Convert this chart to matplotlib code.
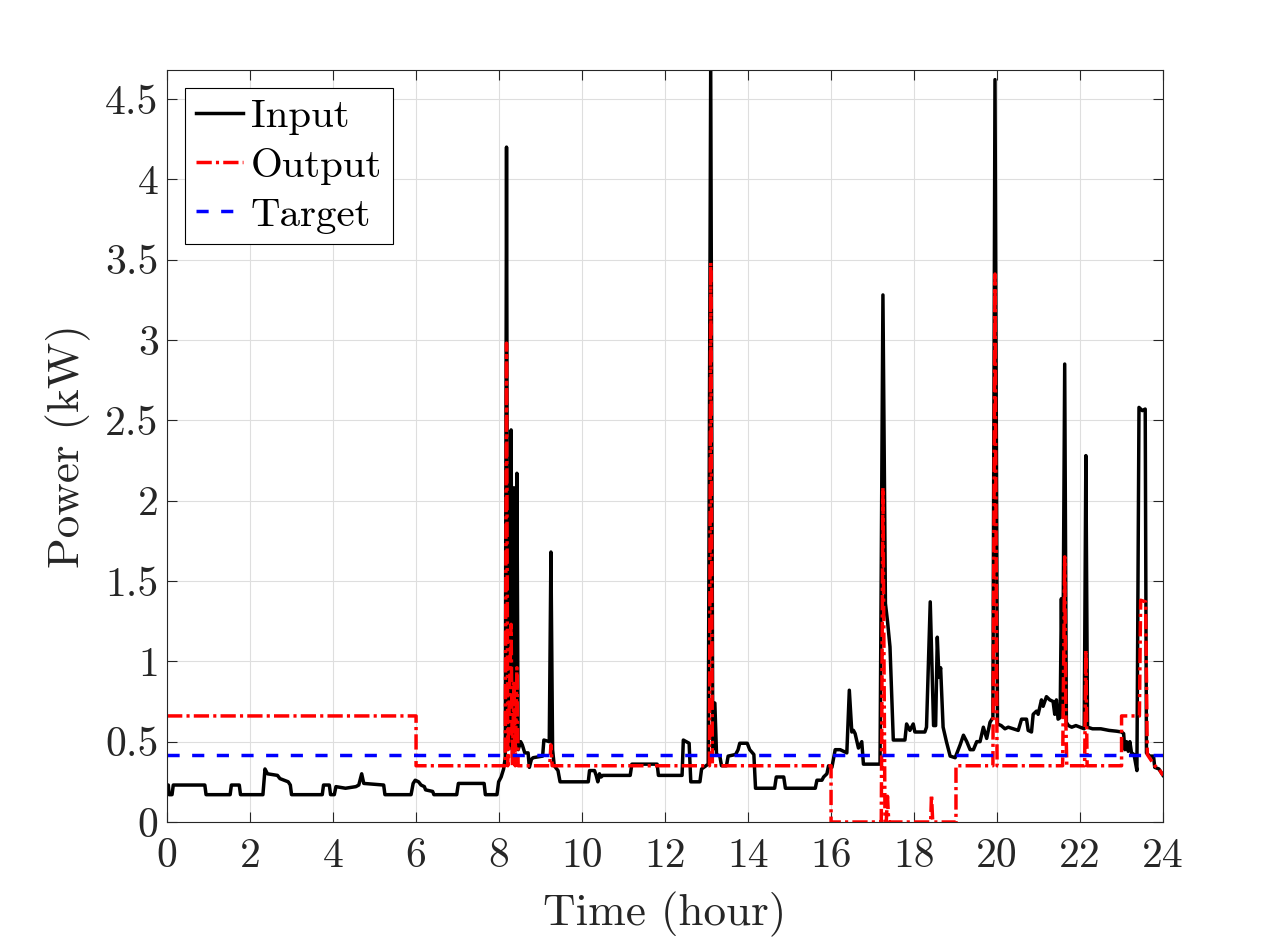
import numpy as np
import matplotlib
matplotlib.use("Agg")
import matplotlib.pyplot as plt

plt.rcParams['font.family'] = 'cmr10'
plt.rcParams['axes.unicode_minus'] = False
plt.rcParams['axes.formatter.use_mathtext'] = True

# Input power (kW) vs time (hour)
input_t = [0.00, 0.03, 0.05, 0.12, 0.15, 0.91, 0.94, 1.52, 1.55, 1.74, 1.77, 2.31, 2.36, 2.42,
           2.66, 2.72, 2.92, 2.97, 3.00, 3.74, 3.77, 3.91, 3.94, 4.03, 4.07, 4.30, 4.55, 4.62,
           4.69, 4.74, 5.22, 5.25, 5.88, 5.93, 5.98, 6.06, 6.12, 6.20, 6.23, 6.40, 6.43, 6.98,
           7.02, 7.64, 7.67, 7.95, 7.99, 8.05, 8.11, 8.15, 8.18, 8.21, 8.26, 8.29, 8.32, 8.36,
           8.39, 8.43, 8.46, 8.52, 8.56, 8.62, 8.70, 8.73, 8.78, 8.82, 9.05, 9.08, 9.21, 9.25,
           9.29, 9.33, 9.42, 9.47, 10.15, 10.18, 10.30, 10.34, 10.38, 10.42, 10.46, 10.50, 11.16,
           11.20, 11.81, 11.84, 12.41, 12.44, 12.58, 12.62, 12.84, 12.88, 13.04, 13.10, 13.15,
           13.20, 13.24, 13.32, 13.36, 13.48, 13.52, 13.70, 13.76, 13.80, 13.98, 14.04, 14.14,
           14.18, 14.64, 14.68, 14.86, 14.90, 15.62, 15.66, 15.78, 15.82, 15.90, 15.94, 16.02,
           16.10, 16.22, 16.30, 16.38, 16.44, 16.50, 16.54, 16.58, 16.66, 16.74, 16.78, 17.18,
           17.25, 17.31, 17.36, 17.42, 17.50, 17.78, 17.82, 17.90, 17.98, 18.02, 18.26, 18.30,
           18.39, 18.47, 18.52, 18.56, 18.60, 18.64, 18.70, 18.78, 18.87, 18.99, 19.11, 19.19,
           19.27, 19.35, 19.43, 19.51, 19.59, 19.67, 19.75, 19.83, 19.90, 19.95, 20.01, 20.10,
           20.19, 20.27, 20.39, 20.51, 20.59, 20.71, 20.75, 20.83, 20.87, 20.95, 20.99, 21.07,
           21.11, 21.19, 21.27, 21.35, 21.39, 21.43, 21.47, 21.52, 21.55, 21.58, 21.63, 21.67,
           21.72, 21.80, 21.90, 22.00, 22.10, 22.14, 22.18, 22.30, 22.50, 22.70, 22.88, 23.00,
           23.05, 23.08, 23.12, 23.16, 23.20, 23.24, 23.30, 23.37, 23.42, 23.50, 23.57, 23.60,
           23.68, 23.77, 23.80, 23.90, 24.00]
input_p = [0.23, 0.23, 0.17, 0.17, 0.23, 0.23, 0.17, 0.17, 0.23, 0.23, 0.17, 0.17, 0.33, 0.30,
           0.29, 0.27, 0.25, 0.23, 0.17, 0.17, 0.23, 0.23, 0.17, 0.17, 0.22, 0.21, 0.22, 0.23,
           0.30, 0.24, 0.23, 0.17, 0.17, 0.24, 0.26, 0.25, 0.23, 0.22, 0.20, 0.19, 0.17, 0.17,
           0.24, 0.24, 0.17, 0.17, 0.25, 0.28, 0.33, 0.40, 4.20, 0.45, 0.50, 2.44, 0.45, 2.08,
           0.50, 2.17, 0.45, 0.50, 0.48, 0.43, 0.43, 0.34, 0.39, 0.40, 0.41, 0.51, 0.50, 1.68,
           0.45, 0.35, 0.32, 0.25, 0.25, 0.32, 0.32, 0.29, 0.25, 0.30, 0.28, 0.29, 0.29,
           0.36, 0.36, 0.29, 0.29, 0.51, 0.49, 0.25, 0.25, 0.33, 0.36, 4.70, 0.45,
           0.74, 0.42, 0.41, 0.35, 0.35, 0.41, 0.42, 0.45, 0.49, 0.49, 0.45, 0.42,
           0.21, 0.21, 0.28, 0.28, 0.21, 0.21, 0.26, 0.26, 0.28, 0.30, 0.35, 0.34,
           0.45, 0.45, 0.44, 0.43, 0.82, 0.56, 0.57, 0.55, 0.46, 0.50, 0.36, 0.36,
           3.28, 1.36, 1.25, 1.09, 0.51, 0.51, 0.61, 0.57, 0.61, 0.56, 0.56, 0.59,
           1.37, 0.60, 0.60, 1.15, 0.90, 0.96, 0.59, 0.50, 0.41, 0.40, 0.48, 0.54,
           0.50, 0.45, 0.45, 0.50, 0.50, 0.59, 0.52, 0.62, 0.65, 4.62, 0.61, 0.60,
           0.58, 0.59, 0.58, 0.57, 0.64, 0.64, 0.57, 0.56, 0.67, 0.69, 0.67, 0.76,
           0.72, 0.78, 0.76, 0.75, 0.67, 0.76, 0.64, 0.65, 1.39, 0.70, 2.85, 0.62,
           0.60, 0.59, 0.60, 0.59, 0.58, 2.28, 0.59, 0.58, 0.58, 0.57, 0.565, 0.56,
           0.55, 0.45, 0.50, 0.44, 0.50, 0.43, 0.42, 0.32, 2.58, 2.56, 2.57, 0.43,
           0.41, 0.41, 0.34, 0.33, 0.29]

# Output power (kW)
output_t = [0.0, 6.0, 6.0, 8.15, 8.18, 8.21, 8.29, 8.32, 8.36, 8.39, 8.43, 8.46, 9.22, 9.25, 9.28,
            13.07, 13.10, 13.14, 16.0, 16.0, 17.21, 17.25, 17.30, 17.33, 17.36, 17.39, 18.40,
            18.42, 18.45, 19.01, 19.01, 19.90, 19.95, 20.0, 21.58, 21.63, 21.66, 21.68, 22.11,
            22.14, 22.17, 23.0, 23.0, 23.43, 23.46, 23.58, 23.62, 23.80, 23.90, 24.0]
output_p = [0.66, 0.66, 0.35, 0.35, 2.98, 0.35, 1.23, 0.35, 0.88, 0.35, 0.96, 0.35, 0.35, 0.48, 0.35,
            0.35, 3.48, 0.35, 0.35, 0.0, 0.0, 2.08, 0.0, 0.0, 0.16, 0.0, 0.0,
            0.17, 0.0, 0.0, 0.35, 0.35, 3.41, 0.35, 0.35, 1.65, 0.60, 0.35, 0.35,
            1.07, 0.35, 0.35, 0.66, 0.66, 1.38, 1.37, 0.42, 0.35, 0.33, 0.29]

target = 0.42

x_ticks = list(range(0, 25, 2))
y_ticks = [0, 0.5, 1, 1.5, 2, 2.5, 3, 3.5, 4, 4.5]
y_labels = ['0', '0.5', '1', '1.5', '2', '2.5', '3', '3.5', '4', '4.5']

fig = plt.figure(figsize=(12.86, 9.42), dpi=100)
ax = fig.add_axes([0.1299, 0.1274, 0.7745, 0.7983])

ax.plot(input_t, input_p, color='black', lw=2.5, label='Input')
ax.plot(output_t, output_p, color='red', lw=2.5, dashes=(4.4, 1.2, 0.9, 1.2), label='Output')
ax.plot([0, 24], [target, target], color='blue', lw=2.5, dashes=(3.5, 3.6), label='Target')

ax.set_xlim(0, 24)
ax.set_ylim(0, 4.68)
ax.set_xticks(x_ticks)
ax.set_xticklabels([str(v) for v in x_ticks])
ax.set_yticks(y_ticks)
ax.set_yticklabels(y_labels)

gray = '#262626'
ax.grid(True, color='#dedede', lw=0.8)
ax.set_axisbelow(True)
for s in ax.spines.values():
    s.set_color(gray)
    s.set_linewidth(0.8)
ax.tick_params(direction='in', length=7, width=0.8, top=True, right=True,
               labelsize=30, colors=gray)
ax.tick_params(axis='x', pad=11)
ax.tick_params(axis='y', pad=6)

ax.set_xlabel('Time (hour)', fontsize=32.5, color=gray, labelpad=12)
ax.set_ylabel('Power (kW)', fontsize=32.5, color=gray, labelpad=10)

leg = ax.legend(loc='upper left', fontsize=29.5, fancybox=False, framealpha=1,
                edgecolor='black', handlelength=1.15, handletextpad=0.2,
                labelspacing=0.3, borderpad=0.25, borderaxespad=0.45)
leg.get_frame().set_linewidth(0.8)

fig.savefig('out.png', dpi=100)
